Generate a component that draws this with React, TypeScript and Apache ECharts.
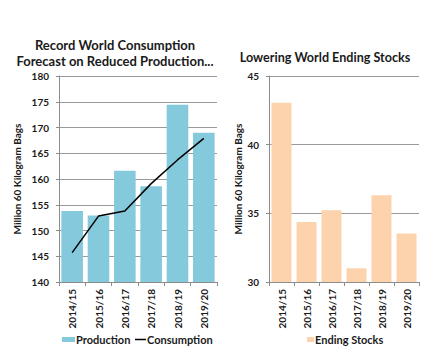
import React, { useEffect, useRef } from "react";
import * as echarts from "echarts";

const categories = ["2014/15", "2015/16", "2016/17", "2017/18", "2018/19", "2019/20"];
const production = [153.8, 152.9, 161.6, 158.6, 174.4, 169.0];
const consumption = [145.7, 152.8, 153.8, 159.1, 163.7, 167.9];
const endingStocks = [43.05, 34.37, 35.23, 31.0, 36.32, 33.53];
const leftTitle = "Record World Consumption\nForecast on Reduced Production...";
const rightTitle = "Lowering World Ending Stocks";
const yName = "Million 60 Kilogram Bags";

const FONT = "Lato";
const TXT = "#1a1a1a";

export default function App() {
  const ref = useRef<HTMLDivElement>(null);
  useEffect(() => {
    document.body.style.margin = "0";
    const chart = echarts.init(ref.current!, undefined, { renderer: "svg" });
    const xAxisCommon = {
      type: "category" as const,
      data: categories,
      axisLine: { lineStyle: { color: "#8c8c8c" } },
      axisTick: { show: true, lineStyle: { color: "#8c8c8c" }, length: 4 },
      axisLabel: {
        rotate: 90,
        color: TXT,
        fontFamily: FONT,
        fontWeight: "bold" as const,
        fontSize: 10,
        margin: 7,
      },
    };
    const yAxisCommon = {
      type: "value" as const,
      interval: 5,
      name: yName,
      nameLocation: "middle" as const,
      nameRotate: 90,
      nameTextStyle: { fontFamily: FONT, fontWeight: "bold" as const, fontSize: 10, color: TXT },
      axisLine: { show: true, lineStyle: { color: "#8c8c8c" } },
      axisTick: { show: true, length: 3, lineStyle: { color: "#8c8c8c" } },
      splitLine: { lineStyle: { color: "#9a9a9a" } },
      axisLabel: { color: TXT, fontFamily: FONT, fontWeight: "bold" as const, fontSize: 10, margin: 10 },
    };
    const legendText = { fontFamily: FONT, fontWeight: "bold" as const, fontSize: 11, color: TXT, padding: [0, 0, 0, -4] };
    chart.setOption({
      animation: false,
      title: [
        {
          text: leftTitle,
          left: 115,
          top: 37,
          padding: 0,
          textAlign: "center",
          textStyle: { fontFamily: FONT, fontWeight: "bold", fontSize: 13, color: TXT, lineHeight: 16 },
        },
        {
          text: rightTitle,
          left: 325,
          top: 49,
          padding: 0,
          textAlign: "center",
          textStyle: { fontFamily: FONT, fontWeight: "bold", fontSize: 12.6, color: TXT, lineHeight: 16 },
        },
      ],
      grid: [
        { left: 59, right: 224, top: 76, bottom: 78 },
        { left: 269, right: 22, top: 76, bottom: 78 },
      ],
      xAxis: [
        { ...xAxisCommon, gridIndex: 0 },
        { ...xAxisCommon, gridIndex: 1 },
      ],
      yAxis: [
        { ...yAxisCommon, gridIndex: 0, min: 140, max: 180, nameGap: 37 },
        { ...yAxisCommon, gridIndex: 1, min: 30, max: 45, nameGap: 24 },
      ],
      legend: [
        {
          data: [{ name: "Production", icon: "rect" }],
          left: 57,
          top: 329,
          itemWidth: 13,
          itemHeight: 5,
          textStyle: legendText,
        },
        {
          data: [{ name: "Consumption", icon: "rect" }],
          left: 130,
          top: 329,
          itemWidth: 11,
          itemHeight: 1.5,
          textStyle: legendText,
        },
        {
          data: [{ name: "Ending Stocks", icon: "rect" }],
          left: 302,
          top: 329,
          itemWidth: 7,
          itemHeight: 5,
          textStyle: legendText,
        },
      ],
      series: [
        {
          name: "Production",
          type: "bar",
          xAxisIndex: 0,
          yAxisIndex: 0,
          data: production,
          barCategoryGap: "18%",
          itemStyle: { color: "#84CADC" },
        },
        {
          name: "Consumption",
          type: "line",
          xAxisIndex: 0,
          yAxisIndex: 0,
          data: consumption,
          symbol: "none",
          lineStyle: { color: "#000000", width: 1.5 },
          itemStyle: { color: "#000000" },
        },
        {
          name: "Ending Stocks",
          type: "bar",
          xAxisIndex: 1,
          yAxisIndex: 1,
          data: endingStocks,
          barCategoryGap: "20%",
          itemStyle: { color: "#FDD3AE" },
        },
      ],
    });
    return () => chart.dispose();
  }, []);
  return <div ref={ref} style={{ width: 441, height: 360, position: "absolute", left: 0, top: 0 }} />;
}
